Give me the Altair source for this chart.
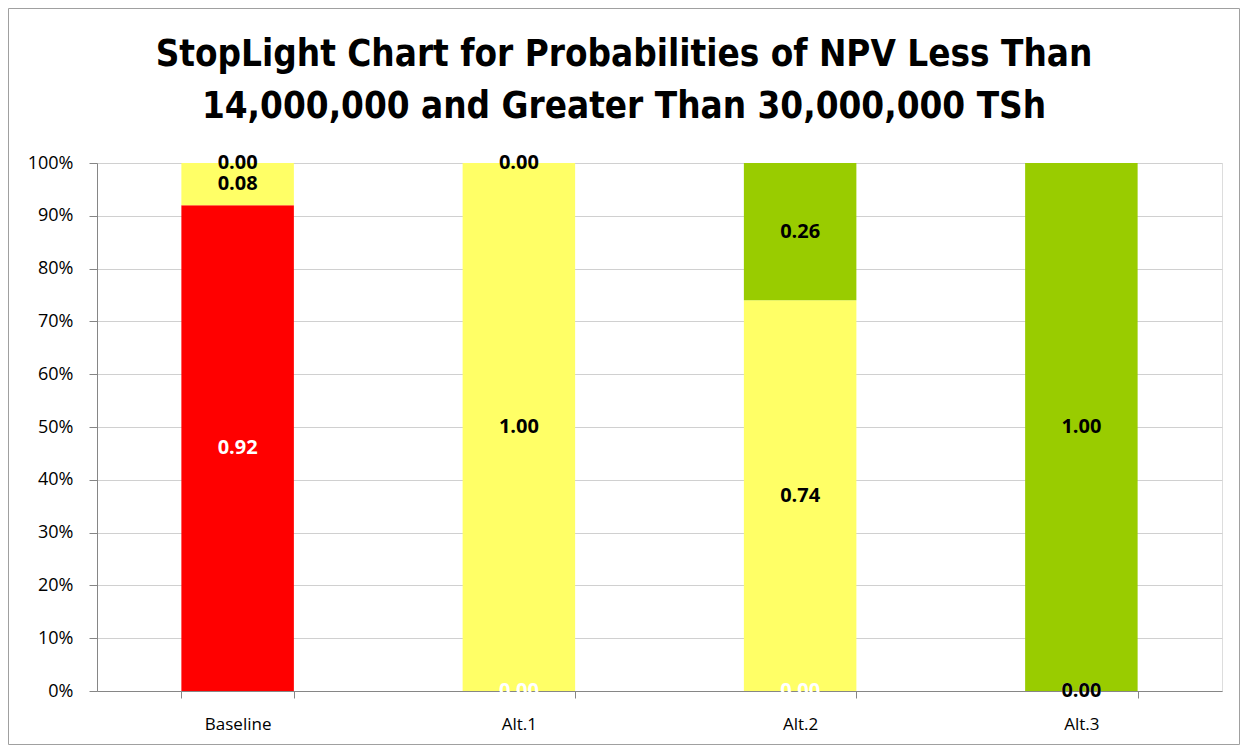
import altair as alt
import pandas as pd

categories = ["Baseline", "Alt.1", "Alt.2", "Alt.3"]
series = ["Low", "Mid", "High"]
low_values = [0.92, 0.00, 0.00, 0.00]
mid_values = [0.08, 1.00, 0.74, 0.00]
high_values = [0.00, 0.00, 0.26, 1.00]
colors = ["#FF0000", "#FFFF66", "#99CC00"]
label_colors = ["#FFFFFF", "#000000", "#000000"]
y_ticks = [0, 0.1, 0.2, 0.3, 0.4, 0.5, 0.6, 0.7, 0.8, 0.9, 1.0]
title_lines = ["StopLight Chart for Probabilities of NPV Less Than",
               "14,000,000 and Greater Than 30,000,000 TSh"]

rows = []
for s_i, (s, vals) in enumerate(zip(series, [low_values, mid_values, high_values])):
    for c, v in zip(categories, vals):
        rows.append({"cat": c, "series": s, "order": s_i, "value": v})
df = pd.DataFrame(rows)

W, H = 1125, 528

x_enc = alt.X("cat:N", sort=categories, title=None,
              scale=alt.Scale(paddingInner=0.6, paddingOuter=0.3),
              axis=alt.Axis(labelAngle=0, tickBand="extent", tickSize=7,
                            labelPadding=18, labelFontSize=17, labelColor="#000000",
                            labelFont="Open Sans", domainColor="#868686",
                            tickColor="#868686", grid=False))

base = alt.Chart(df).transform_stack(
    stack="value", groupby=["cat"], as_=["y0", "y1"],
    sort=[alt.SortField("order", order="ascending")]
).transform_calculate(mid="(datum.y0 + datum.y1) / 2")

bars = base.mark_bar().encode(
    x=x_enc,
    y=alt.Y("y0:Q", title=None,
            scale=alt.Scale(domain=[0, 1], nice=False),
            axis=alt.Axis(values=y_ticks, format=".0%", tickSize=8, labelPadding=16,
                          labelFontSize=18, labelColor="#000000", labelFont="Open Sans",
                          domainColor="#868686", tickColor="#868686",
                          gridColor="#d0d0d0", grid=True)),
    y2="y1:Q",
    color=alt.Color("series:N", sort=series,
                    scale=alt.Scale(domain=series, range=colors), legend=None),
)

labels = []
for s, lc in zip(series, label_colors):
    labels.append(
        base.transform_filter(alt.datum.series == s).mark_text(
            fontSize=20, fontWeight="bold", font="Open Sans", color=lc, baseline="middle"
        ).encode(
            x=alt.X("cat:N", sort=categories),
            y=alt.Y("mid:Q"),
            text=alt.Text("value:Q", format=".2f"),
        )
    )

title_font = "DejaVu Sans Condensed, sans-serif"
title1 = alt.Chart(alt.Data(values=[{"t": title_lines[0]}])).mark_text(
    fontSize=36.5, fontWeight="bold", font=title_font, color="#000000",
    baseline="alphabetic", align="center"
).encode(x=alt.value(527), y=alt.value(-97), text="t:N")
title2 = alt.Chart(alt.Data(values=[{"t": title_lines[1]}])).mark_text(
    fontSize=36.5, fontWeight="bold", font=title_font, color="#000000",
    baseline="alphabetic", align="center"
).encode(x=alt.value(527), y=alt.value(-45), text="t:N")

border = alt.Chart(alt.Data(values=[{"a": 1}])).mark_rect(
    fill=None, stroke="#a0a0a0", strokeWidth=1
).encode(
    x=alt.value(-88.5), x2=alt.value(W + 17.5),
    y=alt.value(-154.5), y2=alt.value(H + 53.5),
)

chart = alt.layer(bars, *labels, title1, title2, border).properties(
    width=W, height=H,
    autosize=alt.AutoSizeParams(type="none"),
    padding={"left": 89, "top": 155, "right": 18, "bottom": 54},
).configure_view(stroke=None).configure(background="#FFFFFF")

chart.save("out.html", embed_options={"renderer": "svg", "actions": False})
